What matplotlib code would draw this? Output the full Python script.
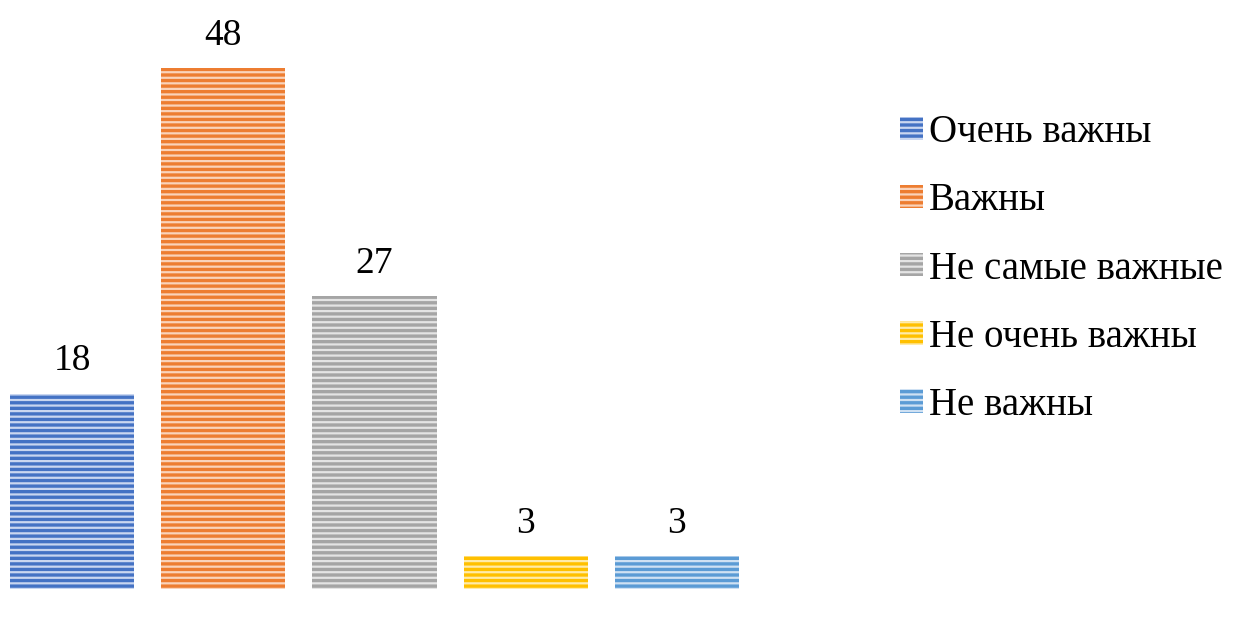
import matplotlib.pyplot as plt
from matplotlib.patches import Patch

categorias = ["Очень важны", "Важны", "Не самые важные", "Не очень важны", "Не важны"]
valores = [18, 48, 27, 3, 3]
colores = ["#4472C4", "#ED7D31", "#A5A5A5", "#FFC000", "#5B9BD5"]
fondos = ["#C9D6F0", "#FAD3BA", "#E4E4E4", "#FFEBAA", "#CFE1F3"]

plt.rcParams["font.family"] = ["Liberation Serif", "DejaVu Serif"]
plt.rcParams["hatch.linewidth"] = 2.4

fig = plt.figure(figsize=(12.38, 6.17), dpi=100)
ax = fig.add_axes([10 / 1238, 28 / 617, 729 / 1238, 542.5 / 617])

x = range(len(valores))
barras = ax.bar(x, valores, width=0.82, color=fondos, edgecolor=colores,
                linewidth=0, hatch="---")
for xi, v in zip(x, valores):
    ax.annotate(str(v), (xi, v), xytext=(0, 11), textcoords="offset points",
                ha="center", va="bottom", fontsize=27)

ax.set_xlim(-0.41, 4.41)
ax.set_ylim(0, 50)
ax.axis("off")

manijas = [Patch(facecolor=f, edgecolor=c, linewidth=0, hatch="---")
           for f, c in zip(fondos, colores)]
fig.legend(manijas, categorias, loc="center left",
           bbox_to_anchor=(900 / 1238, 1 - 269 / 617), frameon=False,
           borderaxespad=0, borderpad=0,
           fontsize=28, handlelength=0.58, handleheight=0.55,
           handletextpad=0.16, labelspacing=0.8)

fig.savefig("out.png", dpi=100)
